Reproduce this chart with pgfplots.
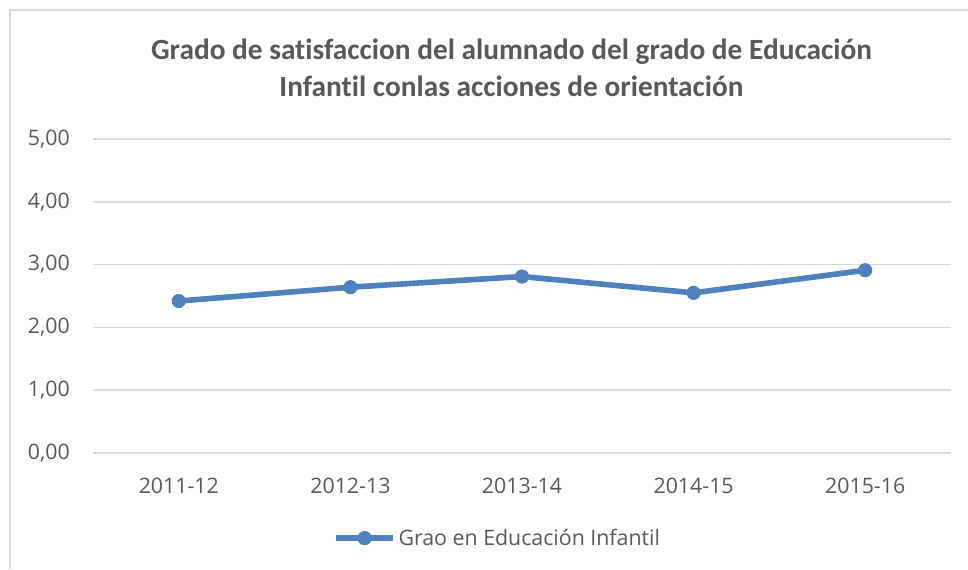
\documentclass[border=0pt]{standalone}
\usepackage{fontspec}
\setmainfont{Carlito}[Ligatures=NoCommon]
\newfontfamily\etiq{Open Sans}
\usepackage{pgfplots}
\pgfplotsset{compat=1.18}
\definecolor{serie}{RGB}{79,129,189}
\definecolor{txt}{RGB}{89,89,89}
\definecolor{rejilla}{RGB}{217,217,217}
\begin{document}
\begin{tikzpicture}[x=0.75pt,y=0.75pt]
\useasboundingbox (0,0) rectangle (968,569);
% marco del grafico
\draw[rejilla, line width=0.9pt] (10,0) -- (10,559) -- (968,559);
% titulo
\node[font=\fontsize{22}{27.75}\selectfont\bfseries, text=txt, align=center]
  at (511.5,501) {Grado de satisfaccion del alumnado del grado de Educación\\Infantil conlas acciones de orientación};
\begin{axis}[
    at={(69.75pt,87pt)}, anchor=south west,
    scale only axis,
    width=643.5pt, height=235.5pt,
    xmin=-0.5, xmax=4.5,
    ymin=0, ymax=5,
    xtick={0,1,2,3,4},
    xticklabels={2011-12,2012-13,2013-14,2014-15,2015-16},
    ytick={0,1,2,3,4,5},
    ymajorgrids=true,
    grid style={rejilla, line width=1.1pt},
    axis line style={draw=none},
    major tick length=0pt,
    tick label style={font=\etiq\fontsize{16}{20}\selectfont, text=txt, inner sep=0pt},
    yticklabel style={anchor=east, xshift=-17.25pt},
    xticklabel style={anchor=north, yshift=-18.5pt},
    /pgf/number format/.cd, fixed, fixed zerofill, precision=2, use comma, assume math mode=true,
    /pgfplots/.cd,
    legend style={at={(0.472,-0.271)}, anchor=center, draw=none, fill=none,
      font=\etiq\fontsize{16}{20}\selectfont, text=txt},
    legend image code/.code={
      \draw[mark repeat=2, mark phase=2, #1] plot coordinates {(0pt,0pt) (21.4pt,0pt) (42.75pt,0pt)};
    },
    clip=false,
]
\addplot[serie, line width=4.2pt, mark=*, mark size=5pt,
  mark options={fill=serie, line width=0.6pt}]
  coordinates {
  (0, 2.42)
  (1, 2.64)
  (2, 2.81)
  (3, 2.55)
  (4, 2.91)
  };
\addlegendentry{Grao en Educación Infantil}
\end{axis}
\end{tikzpicture}
\end{document}
